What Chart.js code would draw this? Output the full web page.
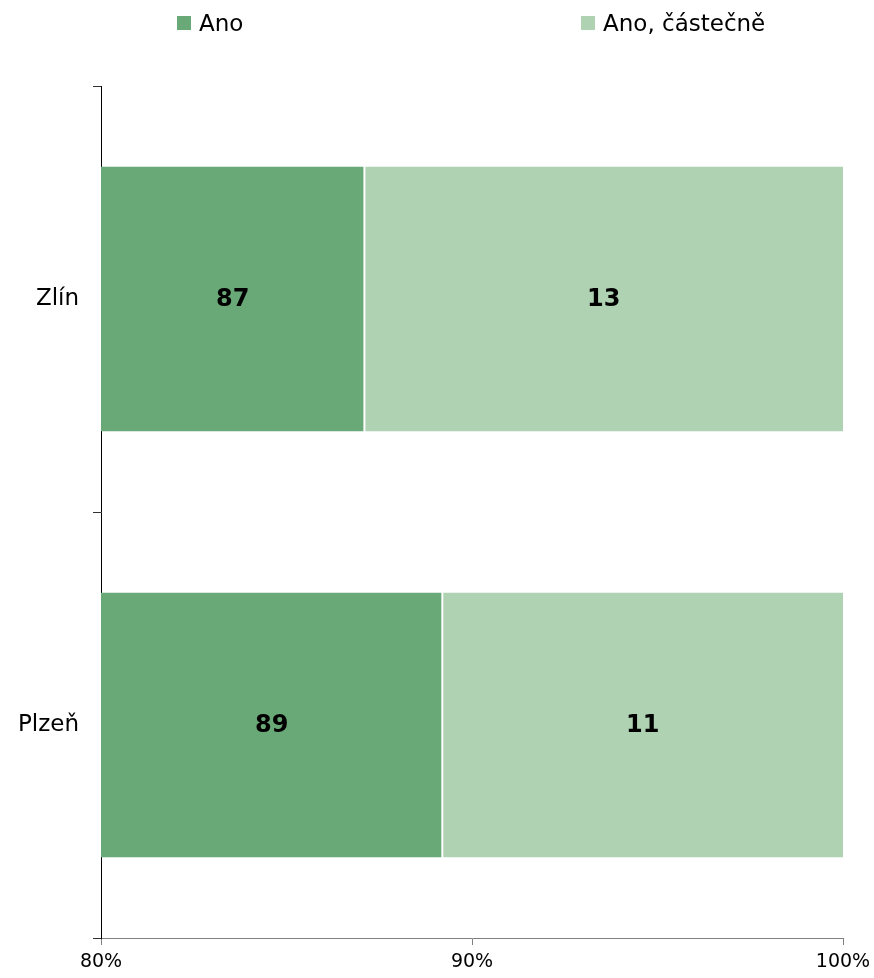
<!DOCTYPE html>
<html>
<head>
<meta charset="utf-8">
<script src="https://cdn.jsdelivr.net/npm/chart.js@4"></script>
<style>
  body { margin: 0; background: #fff; }
  #wrap { position: relative; width: 874px; height: 978px; }
  #legend { position: absolute; top: 0; left: 0; width: 874px; height: 50px; font-family: "DejaVu Sans", Verdana, sans-serif; font-size: 23px; color: #000; }
  .item { position: absolute; top: 10px; display: flex; align-items: center; }
  .box { width: 14px; height: 14px; margin-right: 8px; }
</style>
</head>
<body>
<div id="wrap">
  <canvas id="barChart" width="874" height="978"></canvas>
  <div id="legend"></div>
</div>
<script>
const categories = ['Zlín', 'Plzeň'];
const seriesNames = ['Ano', 'Ano, částečně'];
const anoValues = [87.1, 89.2];
const castecneValues = [12.9, 10.8];
const xTicks = [80, 90, 100];

const colors = ['#69a877', '#afd2b3'];

// legend drawn as html, placed like the original
const legendLeft = [177, 581];
const legend = document.getElementById('legend');
seriesNames.forEach(function (name, i) {
    let item = document.createElement('div');
    item.className = 'item';
    item.style.left = legendLeft[i] + 'px';
    item.innerHTML = '<div class="box" style="background:' + colors[i] + '"></div><span>' + name + '</span>';
    legend.appendChild(item);
});

// value labels in the middle of the visible part of each bar
const barLabels = {
    id: 'barLabels',
    afterDatasetsDraw(chart) {
        const ctx = chart.ctx;
        const area = chart.chartArea;
        ctx.save();
        ctx.font = 'bold 24px "DejaVu Sans", Verdana, sans-serif';
        ctx.fillStyle = '#000';
        ctx.textAlign = 'center';
        ctx.textBaseline = 'middle';
        chart.data.datasets.forEach(function (ds, i) {
            chart.getDatasetMeta(i).data.forEach(function (bar, j) {
                const p = bar.getProps(['x', 'y', 'base']);
                const left = Math.max(Math.min(p.x, p.base), area.left);
                const right = Math.min(Math.max(p.x, p.base), area.right);
                ctx.fillText(Math.round(ds.data[j]), (left + right) / 2, p.y + 1);
            });
        });
        ctx.restore();
    }
};

new Chart(document.getElementById('barChart').getContext('2d'), {
    type: 'bar',
    data: {
        labels: categories,
        datasets: [{
            label: seriesNames[0],
            data: anoValues,
            backgroundColor: colors[0],
            borderColor: '#fff',
            borderWidth: { top: 0, bottom: 0, left: 0, right: 1 },
            borderSkipped: false,
            categoryPercentage: 1,
            barPercentage: 0.622
        }, {
            label: seriesNames[1],
            data: castecneValues,
            backgroundColor: colors[1],
            borderColor: '#fff',
            borderWidth: { top: 0, bottom: 0, left: 1, right: 0 },
            borderSkipped: false,
            categoryPercentage: 1,
            barPercentage: 0.622
        }]
    },
    options: {
        indexAxis: 'y',
        responsive: false,
        animation: false,
        layout: { padding: { top: 86, right: 31, left: 0, bottom: 0 } },
        plugins: {
            legend: { display: false },
            tooltip: { enabled: false }
        },
        scales: {
            x: {
                stacked: true,
                min: 80,
                max: 100,
                afterBuildTicks: function (scale) {
                    scale.ticks = xTicks.map(v => ({ value: v }));
                },
                afterFit: function (scale) {
                    scale.height = 40;
                    scale.paddingRight = 0;
                    scale.paddingLeft = 0;
                },
                grid: { drawOnChartArea: false, drawTicks: true, tickLength: 7, color: '#808080' },
                border: { display: true, color: '#808080', width: 1 },
                ticks: {
                    padding: 6,
                    color: '#000',
                    font: { family: '"DejaVu Sans", Verdana, sans-serif', size: 19 },
                    callback: v => v + '%'
                }
            },
            y: {
                stacked: true,
                afterFit: function (scale) { scale.width = 101; },
                grid: { drawOnChartArea: false, drawTicks: true, tickLength: 8, offset: true, color: '#333' },
                border: { display: true, color: '#000', width: 1 },
                ticks: {
                    padding: 14,
                    color: '#000',
                    font: { family: '"DejaVu Sans", Verdana, sans-serif', size: 23 }
                }
            }
        }
    },
    plugins: [barLabels]
});
</script>
</body>
</html>
